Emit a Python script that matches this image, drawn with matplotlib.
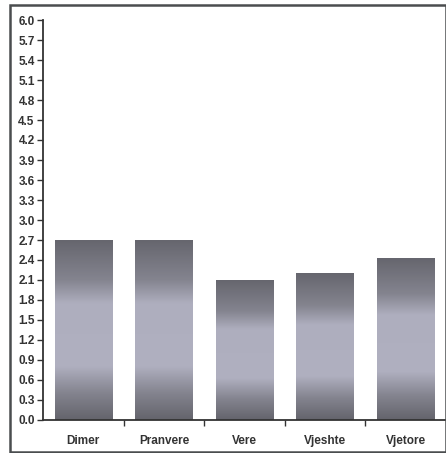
import numpy as np
import matplotlib
matplotlib.use("Agg")
import matplotlib.pyplot as plt
from matplotlib.colors import LinearSegmentedColormap
from matplotlib.patches import Rectangle

# Data
seasons = ["Dimer", "Pranvere", "Vere", "Vjeshte", "Vjetore"]
values = [2.7, 2.7, 2.1, 2.2, 2.43]
yticks = np.arange(0, 6.01, 0.3)

plt.rcParams['font.family'] = ['Liberation Sans', 'DejaVu Sans']

fig = plt.figure(figsize=(4.46, 4.53), dpi=100)
ax = fig.add_axes([43/446, 33/453, 403/446, 400/453])

# outer frame around the chart
fig.patches.append(Rectangle((10/446, 1/453), 436/446, 447/453, transform=fig.transFigure,
                             fill=False, edgecolor='#4a4d4f', linewidth=1.8))

cmap = LinearSegmentedColormap.from_list(
    "bargrad", [(0.0, "#66666e"), (0.22, "#84848f"), (0.35, "#aeaebe"),
                (0.7, "#b0b0c0"), (0.85, "#84848f"), (1.0, "#64646c")])
grad = np.linspace(0, 1, 256).reshape(-1, 1)

x = np.arange(len(seasons))
bars = ax.bar(x, values, width=0.71, color='none', edgecolor='none', zorder=2)
for b in bars:
    x0, w, h = b.get_x(), b.get_width(), b.get_height()
    im = ax.imshow(grad, cmap=cmap, aspect='auto', extent=(x0, x0 + w, 0, h),
                   origin='upper', zorder=2)
    im.set_clip_path(b)

ax.set_xlim(-0.5, 4.5)
ax.set_ylim(0, 6.0)
ax.set_yticks(yticks)
ax.set_yticklabels([f"{v:.1f}" for v in yticks], fontsize=8.5, fontweight='bold', color='#333333')
ax.set_xticks(x)
ax.set_xticklabels(seasons, fontsize=8.5, fontweight='bold', color='#333333')
ax.tick_params(axis='x', length=0, pad=11)
ax.set_xticks(np.arange(0.5, 4.5, 1), minor=True)
ax.tick_params(axis='x', which='minor', length=4, width=1, color='#333333', direction='out')
ax.tick_params(axis='y', length=4, width=1, color='#333333', pad=2)

for s in ['top', 'right']:
    ax.spines[s].set_visible(False)
for s in ['left', 'bottom']:
    ax.spines[s].set_linewidth(1.3)
    ax.spines[s].set_color('#333333')

fig.savefig("out.png", dpi=100)
